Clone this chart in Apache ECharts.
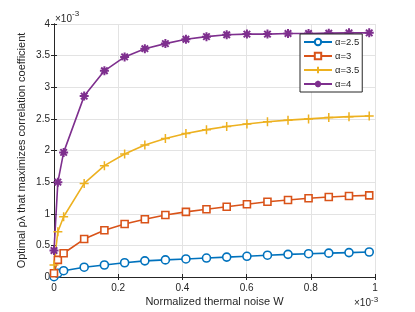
<!DOCTYPE html>
<html>
<head>
<meta charset="utf-8">
<script src="https://cdn.jsdelivr.net/npm/echarts@6/dist/echarts.min.js"></script>
<style>html,body{margin:0;padding:0;background:#fff}#c{width:415px;height:312px}</style>
</head>
<body>
<div id="c"></div>
<script>
// x in units of 1e-3, y in units of 1e-3
var W = [0, 0.012, 0.03, 0.094, 0.157, 0.22, 0.283, 0.347, 0.411, 0.475, 0.538, 0.601, 0.665, 0.729, 0.793, 0.856, 0.919, 0.982];
var alpha25 = [0.005, 0.058, 0.10, 0.155, 0.19, 0.225, 0.255, 0.27, 0.285, 0.30, 0.315, 0.327, 0.345, 0.358, 0.368, 0.377, 0.386, 0.395];
var alpha3 = [0.06, 0.27, 0.375, 0.60, 0.74, 0.838, 0.912, 0.98, 1.03, 1.07, 1.11, 1.15, 1.19, 1.217, 1.244, 1.265, 1.28, 1.29];
var alpha35 = [0.19, 0.716, 0.953, 1.48, 1.76, 1.945, 2.087, 2.19, 2.27, 2.33, 2.38, 2.42, 2.455, 2.48, 2.50, 2.52, 2.535, 2.545];
var alpha4 = [0.42, 1.50, 1.97, 2.86, 3.26, 3.48, 3.61, 3.69, 3.76, 3.80, 3.83, 3.84, 3.84, 3.85, 3.85, 3.855, 3.86, 3.86];
var seriesNames = ['\u03b1=2.5', '\u03b1=3', '\u03b1=3.5', '\u03b1=4'];
var xTicks = [0, 0.2, 0.4, 0.6, 0.8, 1];
var yTicks = [0, 0.5, 1, 1.5, 2, 2.5, 3, 3.5, 4];

function pairs(ys) { return W.map(function (x, i) { return [x, ys[i]]; }); }

var FONT = '"Liberation Sans", Arial, sans-serif';
var AX = '#262626';
var plusPath = 'path://M-1,0L1,0M0,-1L0,1';
var starPath = 'path://M-1,0L1,0M0,-1L0,1M-0.72,-0.72L0.72,0.72M-0.72,0.72L0.72,-0.72';

var chart = echarts.init(document.getElementById('c'), null, {renderer: 'canvas'});
function mk(name, ys, color, symbol, size, bw) {
  return {
    name: name, type: 'line', data: pairs(ys), xAxisIndex: 0, yAxisIndex: 0,
    symbol: symbol, symbolSize: size, showAllSymbol: true,
    lineStyle: {color: color, width: 1.6},
    itemStyle: {color: symbol.indexOf('path') === 0 ? color : '#fff', borderColor: color, borderWidth: bw},
    emphasis: {disabled: true}, animation: false, z: 3
  };
}
var axisCommon = {
  type: 'value',
  axisLine: {show: true, lineStyle: {color: AX, width: 1}},
  axisTick: {show: true, inside: true, length: 3, lineStyle: {color: AX}},
  axisLabel: {color: AX, fontSize: 10, fontFamily: FONT, margin: 6},
  splitLine: {show: true, lineStyle: {color: '#e3e3e3', width: 1}}
};
var option = {
  backgroundColor: '#fff',
  animation: false,
  grid: {left: 54, right: 40, top: 24, bottom: 35, containLabel: false},
  xAxis: [
    Object.assign({}, axisCommon, {min: 0, max: 1, interval: 0.2, position: 'bottom',
      name: 'Normalized thermal noise W', nameLocation: 'middle', nameGap: 19, nameMoveOverlap: false,
      nameTextStyle: {color: AX, fontSize: 11, fontFamily: FONT},
      axisLabel: Object.assign({}, axisCommon.axisLabel, {formatter: function (v) { return xTicks.indexOf(Math.round(v*10)/10) >= 0 ? String(Math.round(v*10)/10) : ''; }})}),
    Object.assign({}, axisCommon, {min: 0, max: 1, interval: 0.2, position: 'top',
      axisLabel: {show: false}, splitLine: {show: false}})
  ],
  yAxis: [
    Object.assign({}, axisCommon, {min: 0, max: 4, interval: 0.5, position: 'left',
      name: 'Optimal \u03c1\u03bb that maximizes correlation coefficient', nameLocation: 'middle', nameGap: 27, nameMoveOverlap: false,
      nameTextStyle: {color: AX, fontSize: 11, fontFamily: FONT},
      axisLabel: Object.assign({}, axisCommon.axisLabel, {margin: 4, formatter: function (v) { return String(Math.round(v*10)/10); }})}),
    Object.assign({}, axisCommon, {min: 0, max: 4, interval: 0.5, position: 'right',
      axisLabel: {show: false}, splitLine: {show: false}})
  ],
  legend: {
    orient: 'vertical', left: 300, top: 34,
    data: seriesNames,
    itemWidth: 28, itemHeight: 8, itemGap: 4,
    backgroundColor: '#fff', borderColor: AX, borderWidth: 1, borderRadius: 0,
    padding: [3, 3, 3, 3],
    textStyle: {color: AX, fontSize: 9.5, fontFamily: FONT, padding: [0, 0, 0, -2]},
    selectedMode: false
  },
  graphic: [
    {type: 'text', left: 55, top: 10, style: {
      text: '{a|\u00d710}{b|-3}', fill: AX, font: '10px ' + FONT,
      rich: {a: {fontSize: 10, fontFamily: FONT, fill: AX, verticalAlign: 'bottom'}, b: {fontSize: 8, fontFamily: FONT, fill: AX, padding: [0, 0, 6, 0]}}}},
    {type: 'text', left: 354, top: 296, style: {
      text: '{a|\u00d710}{b|-3}', fill: AX, font: '10px ' + FONT,
      rich: {a: {fontSize: 10, fontFamily: FONT, fill: AX}, b: {fontSize: 8, fontFamily: FONT, fill: AX, padding: [0, 0, 6, 0]}}}}
  ],
  series: [
    mk(seriesNames[0], alpha25, '#0072BD', 'circle', 8, 1.6),
    mk(seriesNames[1], alpha3, '#D95319', 'rect', 7, 1.6),
    mk(seriesNames[2], alpha35, '#EDB120', plusPath, 9, 1.5),
    mk(seriesNames[3], alpha4, '#7E2F8E', starPath, 9, 2)
  ]
};
chart.setOption(option);
</script>
</body>
</html>
